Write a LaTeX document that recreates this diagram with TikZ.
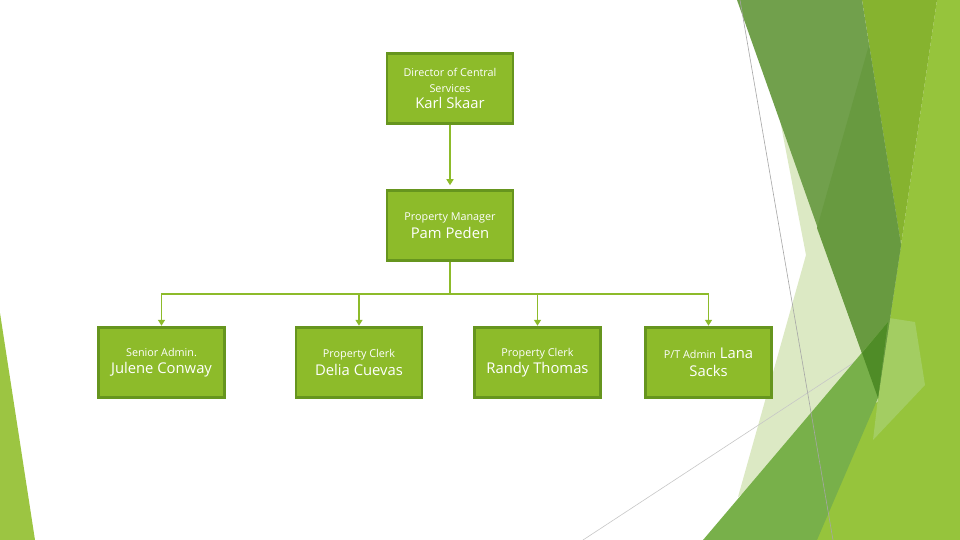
\documentclass[tikz,border=0pt]{standalone}
\usepackage{fontspec}
\setmainfont{Open Sans}
\usetikzlibrary{arrows.meta}
\definecolor{boxfill}{HTML}{8DBB2A}
\definecolor{boxline}{HTML}{66951E}
\definecolor{connc}{HTML}{8DBB2A}
\definecolor{bgbright}{HTML}{96C43C}
\definecolor{bgolive}{HTML}{86B32F}
\definecolor{bgdarka}{HTML}{71A04C}
\definecolor{bgdarkb}{HTML}{689A40}
\definecolor{bgpale}{HTML}{DCE9C4}
\definecolor{bgmed}{HTML}{78B04A}
\definecolor{bgdeep}{HTML}{4F8C27}
\definecolor{bglight}{HTML}{A3CD62}
\definecolor{bgleft}{HTML}{9CC542}
\newcommand{\ttl}{\fontsize{10.8}{12}\selectfont}
\begin{document}
\begin{tikzpicture}[x=1pt,y=-1pt,
  orgbox/.style={draw=boxline, line width=2.5pt, fill=boxfill, minimum width=126pt,
    minimum height=70pt, inner sep=0pt, align=center, text=white,
    font=\fontsize{14.8}{17.5}\selectfont},
  conn/.style={draw=connc, line width=1.8pt, -{Triangle[width=7pt,length=6pt]}},
  connline/.style={draw=connc, line width=1.8pt},
  thinline/.style={draw=#1, line width=0.6pt}]
\useasboundingbox (0,0) rectangle (960,540);
\fill[white] (0,0) rectangle (960,540);
% background facets
\fill[bgleft] (0,313) -- (35,540) -- (0,540) -- cycle;
\fill[bgbright] (901,245) -- (937,0) -- (960,0) -- (960,540) -- (800,540) -- (878,398) -- cycle;
\fill[bgolive] (862,0) -- (937,0) -- (901,245) -- cycle;
\fill[bgpale] (780,120) -- (880,400) -- (738,497) -- (806,255) -- cycle;
\fill[bglight] (889,318) -- (915,322) -- (925,385) -- (873,440) -- (878,398) -- cycle;
\draw[thinline={black!22}] (583,540) -- (870,352);
\fill[bgdarka] (737,0) -- (862,0) -- (901,245) -- (878,398) -- cycle;
\fill[bgdarkb] (869,45) -- (901,245) -- (878,398) -- (817,228) -- cycle;
\fill[bgmed] (703,540) -- (888,322) -- (878,398) -- (817,540) -- cycle;
\fill[bgdeep] (862,353) -- (888,322) -- (878,398) -- cycle;
\draw[thinline={black!35}] (740,0) -- (833,540);
% org chart
\node[orgbox] (dir) at (450,88.5) {{\ttl Director of Central}\\[-2pt]{\ttl Services}\\[-1pt]Karl Skaar};
\node[orgbox] (pm) at (450,225.5) {{\ttl Property Manager}\\Pam Peden};
\node[orgbox] (c1) at (161.5,362.5) {{\ttl Senior Admin.}\\Julene Conway};
\node[orgbox] (c2) at (359,362.5) {{\ttl Property Clerk}\\Delia Cuevas};
\node[orgbox] (c3) at (537.5,362.5) {{\ttl Property Clerk}\\Randy Thomas};
\node[orgbox] (c4) at (708.5,362.5) {{\ttl P/T Admin} Lana\\Sacks};
\coordinate (bus) at (450,294);
\draw[conn, shorten >=4pt] (dir) -- (pm);
\draw[connline] (pm.south) -- (bus);
\foreach \c in {c1,c2,c3,c4} {
  \draw[conn, shorten >=0.5pt] (bus) -| (\c.north);
}
\end{tikzpicture}
\end{document}
